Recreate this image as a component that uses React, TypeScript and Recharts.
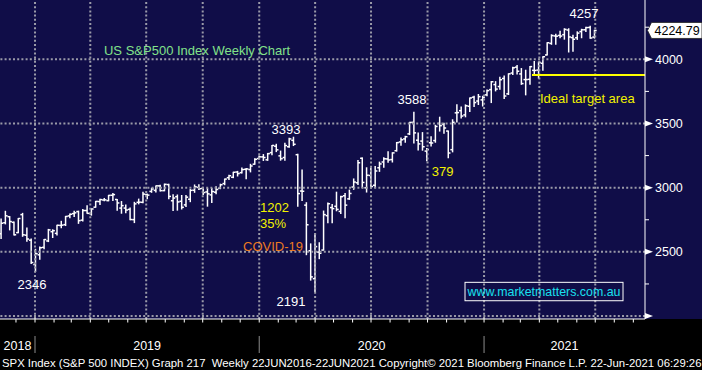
import React from "react";
import { ComposedChart, Bar, XAxis, YAxis, ReferenceLine, ReferenceDot } from "recharts";

// ---------- data ----------
const firstWeekEnding = [2018, 11, 2]; // Friday of first weekly bar
const opens = [
  2641, 2727, 2774, 2730, 2650, 2790, 2630, 2591, 2401,
  2477, 2535, 2585, 2657, 2644, 2706, 2712, 2780, 2798, 2814, 2747, 2822, 2797, 2848, 2892, 2904, 2899, 2941, 2908, 2841, 2841, 2831, 2751, 2886, 2886, 2946, 2971, 2979, 3014, 2977, 3024, 2898, 2930, 2894, 2866, 2910, 2980, 3002, 2994, 2967, 2944, 2965, 2996, 3032, 3078, 3081, 3122, 3117, 3143, 3141, 3183, 3227,
  3240, 3217, 3273, 3323, 3248, 3235, 3319, 3369, 3257, 2974, 2864, 2509, 2291, 2498, 2514, 2782, 2845, 2855, 2815, 2937, 2913, 3005, 3038, 3229, 2999, 3095, 3019, 3155, 3200, 3224, 3219, 3288, 3356, 3380, 3419, 3509, 3370, 3363, 3285, 3350, 3367, 3500, 3493, 3441, 3296, 3583, 3600, 3567, 3634, 3705, 3675, 3684, 3723,
  3764, 3803, 3788, 3851, 3731, 3893, 3939, 3886, 3842, 3844, 3914, 3916, 3969, 4034, 4124, 4182, 4186, 4192, 4228, 4169, 4168, 4216, 4230, 4248, 4173,
];
const highs = [
  2756, 2816, 2775, 2733, 2760, 2800, 2685, 2601, 2520,
  2538, 2597, 2675, 2672, 2708, 2738, 2776, 2794, 2816, 2817, 2830, 2860, 2836, 2893, 2910, 2916, 2940, 2954, 2908, 2892, 2865, 2841, 2886, 2911, 2964, 2950, 2996, 3014, 3018, 3028, 3027, 2944, 2943, 2939, 2940, 2985, 3021, 3022, 3002, 2993, 2993, 3008, 3027, 3067, 3097, 3120, 3127, 3154, 3150, 3182, 3226, 3247,
  3258, 3267, 3329, 3338, 3285, 3347, 3385, 3393, 3260, 3137, 2883, 2562, 2641, 2571, 2818, 2880, 2868, 2965, 2934, 2955, 2981, 3068, 3211, 3232, 3155, 3154, 3165, 3199, 3233, 3280, 3272, 3352, 3387, 3400, 3509, 3588, 3425, 3429, 3306, 3397, 3486, 3549, 3501, 3441, 3529, 3646, 3628, 3645, 3699, 3712, 3726, 3712, 3760,
  3827, 3826, 3860, 3870, 3887, 3938, 3951, 3928, 3915, 3944, 3983, 3978, 4020, 4129, 4191, 4195, 4218, 4238, 4238, 4187, 4214, 4234, 4249, 4257, 4226,
];
const lows = [
  2604, 2718, 2671, 2631, 2649, 2621, 2583, 2409, 2346,
  2443, 2524, 2580, 2612, 2631, 2688, 2705, 2766, 2776, 2722, 2741, 2800, 2786, 2848, 2869, 2898, 2898, 2900, 2825, 2801, 2805, 2750, 2728, 2874, 2882, 2914, 2964, 2966, 2975, 2976, 2914, 2822, 2825, 2834, 2853, 2891, 2964, 2985, 2946, 2856, 2884, 2952, 2992, 3023, 3064, 3078, 3091, 3115, 3070, 3123, 3183, 3223,
  3212, 3213, 3256, 3281, 3214, 3214, 3315, 3328, 2856, 2901, 2478, 2280, 2191, 2447, 2514, 2727, 2727, 2820, 2798, 2766, 2909, 2987, 3025, 2999, 2966, 3004, 3000, 3127, 3159, 3199, 3200, 3285, 3330, 3354, 3414, 3349, 3293, 3292, 3209, 3324, 3354, 3441, 3424, 3233, 3279, 3511, 3543, 3552, 3594, 3633, 3648, 3636, 3716,
  3663, 3754, 3766, 3694, 3726, 3882, 3885, 3805, 3723, 3806, 3885, 3853, 3915, 4034, 4117, 4118, 4167, 4157, 4057, 4062, 4155, 4168, 4217, 4164, 4165,
];
const closes = [
  2723, 2781, 2736, 2633, 2760, 2633, 2600, 2417, 2486,
  2532, 2596, 2671, 2665, 2707, 2708, 2776, 2793, 2804, 2743, 2822, 2800, 2834, 2893, 2907, 2905, 2940, 2946, 2881, 2860, 2826, 2752, 2874, 2887, 2950, 2942, 2990, 3014, 2977, 3026, 2932, 2919, 2889, 2847, 2926, 2979, 3007, 2992, 2962, 2952, 2970, 2986, 3023, 3067, 3093, 3120, 3110, 3141, 3146, 3169, 3221, 3240,
  3235, 3265, 3329, 3295, 3226, 3328, 3380, 3338, 2954, 2972, 2711, 2305, 2541, 2489, 2790, 2875, 2837, 2831, 2930, 2864, 2955, 3044, 3194, 3041, 3097, 3009, 3130, 3185, 3225, 3216, 3271, 3351, 3373, 3397, 3508, 3427, 3341, 3319, 3298, 3348, 3477, 3483, 3465, 3270, 3509, 3585, 3558, 3638, 3699, 3663, 3709, 3703, 3756,
  3825, 3768, 3841, 3714, 3887, 3934, 3907, 3811, 3842, 3943, 3913, 3975, 4020, 4129, 4185, 4180, 4181, 4233, 4174, 4156, 4204, 4230, 4247, 4166, 4224.79,
];
const lastPrice = 4224.79;
const yTickValues = [2000, 2250, 2500, 2750, 3000, 3250, 3500, 3750, 4000, 4250];
const yGridValues = [2000, 2500, 3000, 3500, 4000];
const targetLevel = 3878;
const years = [2018, 2019, 2020, 2021];
const footer =
  "SPX Index (S&P 500 INDEX) Graph 217  Weekly 22JUN2016-22JUN2021 Copyright\u00a9 2021 Bloomberg Finance L.P. 22-Jun-2021 06:29:26";

// ---------- helpers ----------
const FONT = "'Liberation Sans', Arial, Helvetica, sans-serif";
const NAVY = "#100d48";
const GRID = "#9a9aa8";
const EPOCH = Date.UTC(2019, 0, 1);
const DAY_MS = 86400000;
const dayOf = (y: number, m: number, d: number) => (Date.UTC(y, m - 1, d) - EPOCH) / DAY_MS;
const firstDay = dayOf(firstWeekEnding[0], firstWeekEnding[1], firstWeekEnding[2]);
const BAR_SHIFT = 5;
const X_DOMAIN: [number, number] = [-57, 993];
const Y_DOMAIN: [number, number] = [1977, 4462];

const data = opens.map((o, i) => ({
  t: firstDay + 7 * i + BAR_SHIFT,
  open: o,
  high: highs[i],
  low: lows[i],
  close: closes[i],
}));

type TickInfo = { kind: "month" | "year"; jan?: boolean; label?: string };
const tickInfo = new Map<number, TickInfo>();
const quarterDays: number[] = [];
for (let y = 2018; y <= 2021; y++) {
  for (let m = 1; m <= 12; m++) {
    const d = dayOf(y, m, 1);
    if (d > X_DOMAIN[0] && d < X_DOMAIN[1]) {
      tickInfo.set(d, { kind: "month", jan: m === 1 });
      if ((m - 1) % 3 === 0) quarterDays.push(d);
    }
  }
}
years.forEach((y) => {
  const s = Math.max(dayOf(y, 1, 1), X_DOMAIN[0]);
  const e = Math.min(dayOf(y + 1, 1, 1), X_DOMAIN[1]);
  tickInfo.set((s + e) / 2, { kind: "year", label: String(y) });
});
const xTicks = Array.from(tickInfo.keys()).sort((a, b) => a - b);

// ---------- renderers ----------
const OHLC = (props: any) => {
  const { x, y, width, height, payload } = props;
  if (!payload || height == null) return <g />;
  const { high, low, open, close } = payload;
  const cx = x + width / 2;
  const k = height / (high - low);
  const yO = y + (high - open) * k;
  const yC = y + (high - close) * k;
  return (
    <g stroke="#ffffff" strokeWidth={1.5}>
      <line x1={cx} x2={cx} y1={y - 0.5} y2={y + height + 0.5} />
      <line x1={cx - 2.2} x2={cx} y1={yO} y2={yO} />
      <line x1={cx} x2={cx + 2.2} y1={yC} y2={yC} />
    </g>
  );
};

const XTick = (props: any) => {
  const { x, y, payload } = props;
  const info = tickInfo.get(payload.value);
  if (!info) return <g />;
  if (info.kind === "year") {
    return (
      <text x={x} y={y + 31} textAnchor="middle" fill="#ffffff" fontSize={12.5} fontFamily={FONT}>
        {info.label}
      </text>
    );
  }
  return (
    <g>
      <line x1={x} x2={x} y1={y} y2={y + 3.5} stroke="#ffffff" strokeWidth={1} />
      {info.jan ? <line x1={x} x2={x} y1={y + 17} y2={y + 34} stroke="#8c8c8c" strokeWidth={1} /> : null}
    </g>
  );
};

const YTick = (props: any) => {
  const { x, y, payload } = props;
  const v = payload.value;
  if (v % 500 !== 0) {
    return <line x1={x} x2={x + 4} y1={y} y2={y} stroke="#ffffff" strokeWidth={1} />;
  }
  return (
    <g>
      <polygon points={`${x},${y - 3} ${x + 8},${y} ${x},${y + 3}`} fill="#ffffff" />
      {v > 2000 ? (
        <text x={x + 10} y={y} dy={4.5} fill="#ffffff" fontSize={12.5} fontFamily={FONT}>
          {v}
        </text>
      ) : null}
    </g>
  );
};

const note = (text: string, color: string, anchor: "start" | "middle" | "end" = "middle", size = 13) =>
  (p: any) => (
    <text x={p.cx} y={p.cy} dy={4.6} fill={color} fontSize={size} fontFamily={FONT} textAnchor={anchor}>
      {text}
    </text>
  );

const webBox = (p: any) => (
  <g>
    <rect x={p.cx - 79} y={p.cy - 9.2} width={158} height={18.4} fill="none" stroke="#ffffff" strokeWidth={1} />
    <text x={p.cx} y={p.cy} dy={4.4} fill="#19e0ef" fontSize={12.4} fontFamily={FONT} textAnchor="middle">
      www.marketmatters.com.au
    </text>
  </g>
);

const priceTag = (p: any) => (
  <g>
    <polygon
      points={`${p.cx + 2.5},${p.cy} ${p.cx + 6.5},${p.cy - 8} ${p.cx + 57},${p.cy - 8} ${p.cx + 57},${p.cy + 8} ${p.cx + 6.5},${p.cy + 8}`}
      fill="#ffffff"
      stroke="#202020"
      strokeWidth={0.8}
    />
    <text x={p.cx + 9.5} y={p.cy} dy={4.4} fill="#000000" fontSize={12.5} fontFamily={FONT}>
      {lastPrice.toFixed(2)}
    </text>
  </g>
);

const dotted = { stroke: GRID, strokeWidth: 2, strokeDasharray: "2 2.2" };

export default function App() {
  return (
    <div style={{ position: "absolute", left: 0, top: 0, width: 702, height: 370, background: "#000", overflow: "hidden", fontFamily: FONT }}>
      <div style={{ position: "absolute", left: 0, top: 0, width: 702, height: 319, background: NAVY }} />
      <div style={{ position: "absolute", left: 0, top: 0 }}>
        <ComposedChart width={702} height={370} data={data} margin={{ top: 0, right: 0, bottom: 0, left: 0 }}>
          <XAxis
            dataKey="t"
            type="number"
            domain={X_DOMAIN}
            allowDataOverflow
            ticks={xTicks}
            interval={0}
            tickLine={false}
            tickSize={0}
            tickMargin={0}
            axisLine={{ stroke: "#ffffff", strokeWidth: 1 }}
            height={51}
            tick={(p: any) => <XTick {...p} />}
          />
          <YAxis
            orientation="right"
            type="number"
            domain={Y_DOMAIN}
            allowDataOverflow
            ticks={yTickValues}
            interval={0}
            tickLine={false}
            tickSize={0}
            tickMargin={0}
            axisLine={{ stroke: "#ffffff", strokeWidth: 1 }}
            width={57}
            tick={(p: any) => <YTick {...p} />}
          />
          {yGridValues.map((v) => (
            <ReferenceLine key={"h" + v} y={v} {...dotted} />
          ))}
          {quarterDays.map((d) => (
            <ReferenceLine key={"v" + d} x={d} {...dotted} />
          ))}
          <Bar
            dataKey={(d: any) => [d.low, d.high]}
            barSize={4}
            shape={OHLC}
            isAnimationActive={false}
          />
          <ReferenceLine
            segment={[{ x: 809, y: targetLevel }, { x: X_DOMAIN[1], y: targetLevel }]}
            stroke="#ffff00"
            strokeWidth={2}
            ifOverflow="visible"
          />
          <ReferenceDot x={112.3} y={4072} r={1} shape={note("US S&P500 Index Weekly Chart", "#82e28a", "start")} ifOverflow="visible" />
          <ReferenceDot x={408.6} y={3457} r={1} shape={note("3393", "#ffffff")} ifOverflow="visible" />
          <ReferenceDot x={613.7} y={3691} r={1} shape={note("3588", "#ffffff")} ifOverflow="visible" />
          <ReferenceDot x={893.7} y={4361} r={1} shape={note("4257", "#ffffff")} ifOverflow="visible" />
          <ReferenceDot x={663.4} y={3130} r={1} shape={note("379", "#f2f200")} ifOverflow="visible" />
          <ReferenceDot x={822} y={3693} r={1} shape={note("Ideal target area", "#f2f200", "start")} ifOverflow="visible" />
          <ReferenceDot x={366.3} y={2849} r={1} shape={note("1202", "#f2f200", "start")} ifOverflow="visible" />
          <ReferenceDot x={366.3} y={2725} r={1} shape={note("35%", "#f2f200", "start")} ifOverflow="visible" />
          <ReferenceDot x={338.6} y={2542} r={1} shape={note("COVID-19", "#ec7a22", "start")} ifOverflow="visible" />
          <ReferenceDot x={-4.9} y={2250} r={1} shape={note("2346", "#ffffff")} ifOverflow="visible" />
          <ReferenceDot x={416.7} y={2117} r={1} shape={note("2191", "#ffffff")} ifOverflow="visible" />
          <ReferenceDot x={828.6} y={2191} r={1} shape={webBox} ifOverflow="visible" />
          <ReferenceDot x={X_DOMAIN[1]} y={lastPrice} r={1} shape={priceTag} ifOverflow="visible" />
        </ComposedChart>
      </div>
      <svg width={702} height={370} style={{ position: "absolute", left: 0, top: 0, pointerEvents: "none" }}>
        <text x={2} y={366.5} fill="#ffffff" fontSize={11.35} fontFamily={FONT} style={{ whiteSpace: "pre" }}>
          {footer}
        </text>
      </svg>
    </div>
  );
}
